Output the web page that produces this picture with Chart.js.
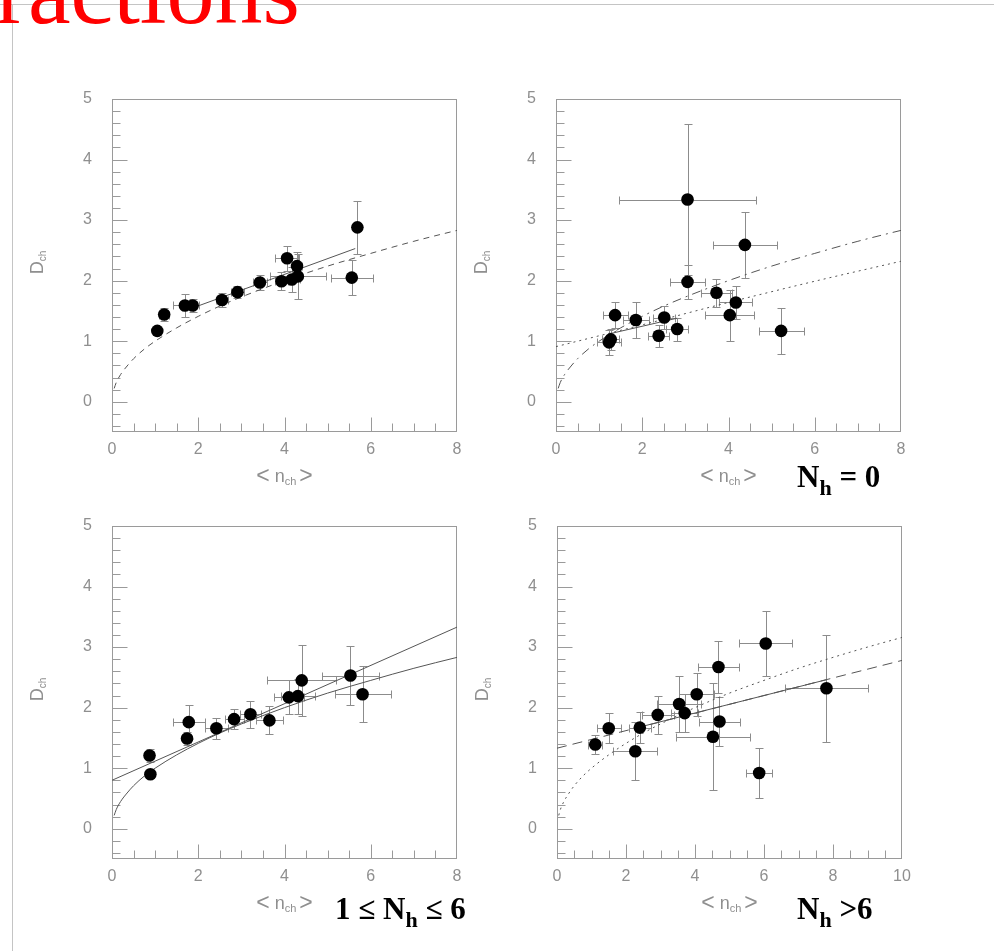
<!DOCTYPE html>
<html>
<head>
<meta charset="utf-8">
<script src="https://cdn.jsdelivr.net/npm/chart.js@4.4.1/dist/chart.umd.min.js"></script>
<style>
  html, body { margin: 0; padding: 0; background: #fff; }
  body { position: relative; width: 994px; height: 951px; overflow: hidden; }
  .rule-h { position: absolute; left: 0; top: 4px; width: 994px; height: 1px; background: #c4c4c4; }
  .rule-v { position: absolute; left: 12px; top: 4px; width: 1px; height: 947px; background: #c4c4c4; }
  .title { position: absolute; left: -4px; top: -57px; font-family: "Liberation Serif", serif; font-size: 96px; line-height: 1; color: #ff0000; white-space: nowrap; }
  canvas { position: absolute; }
  .tag { position: absolute; font-family: "Liberation Serif", serif; font-weight: bold; font-size: 31px; line-height: 1; color: #000; white-space: nowrap; }
  .tag sub { font-size: 22px; vertical-align: -8px; line-height: 0; }
</style>
</head>
<body>
<div class="rule-h"></div>
<div class="rule-v"></div>
<div class="title">ractions</div>

<canvas id="tl" width="490" height="440" style="left:0px;top:60px"></canvas>
<canvas id="tr" width="490" height="440" style="left:444px;top:60px"></canvas>
<canvas id="bl" width="490" height="440" style="left:0px;top:487px"></canvas>
<canvas id="br" width="490" height="440" style="left:445px;top:487px"></canvas>

<div class="tag" style="left:797px;top:461px">N<sub>h</sub> = 0</div>
<div class="tag" style="left:335px;top:893px">1 &le; N<sub>h</sub> &le; 6</div>
<div class="tag" style="left:797px;top:893px">N<sub>h</sub> &gt;6</div>

<script>
// axis ticks
const yTicks = [0, 1, 2, 3, 4, 5]
const xTicks8 = [0, 2, 4, 6, 8]
const xTicks10 = [0, 2, 4, 6, 8, 10]

// reference curve (dashed / dotted sqrt-like curve)
const refCurveX = [0.05, 0.1, 0.2, 0.35, 0.5, 0.75, 1, 1.5, 2, 2.5, 3, 4, 5, 6, 7, 8, 9, 10]
const refCurveY = [0.22, 0.32, 0.45, 0.59, 0.71, 0.87, 1.0, 1.22, 1.41, 1.58, 1.73, 2.0, 2.24, 2.45, 2.65, 2.83, 3.0, 3.16]

// top left: all events
const tlX = [1.05, 1.21, 1.69, 1.87, 2.55, 2.91, 3.43, 3.93, 4.06, 4.17, 4.29, 4.31, 5.56, 5.69]
const tlY = [1.17, 1.44, 1.59, 1.59, 1.68, 1.81, 1.97, 1.99, 2.37, 2.02, 2.24, 2.07, 2.05, 2.88]
const tlXErr = [0.05, 0.12, 0.27, 0.15, 0.15, 0.15, 0.17, 0.15, 0.27, 0.2, 0.12, 0.65, 0.49, 0.05]
const tlYErr = [0.05, 0.1, 0.19, 0.1, 0.12, 0.1, 0.12, 0.15, 0.21, 0.2, 0.24, 0.37, 0.29, 0.44]
const tlFitX = [1.72, 5.64]
const tlFitY = [1.51, 2.53]

// top right: Nh = 0
const trX = [1.23, 1.27, 1.37, 1.85, 2.38, 2.51, 2.81, 3.05, 3.05, 3.72, 4.03, 4.17, 4.38, 5.22]
const trY = [0.98, 1.03, 1.43, 1.35, 1.09, 1.39, 1.20, 1.98, 3.34, 1.80, 1.43, 1.64, 2.59, 1.17]
const trXErr = [0.28, 0.2, 0.29, 0.3, 0.25, 0.25, 0.26, 0.41, 1.59, 0.35, 0.57, 0.38, 0.75, 0.52]
const trYErr = [0.2, 0.17, 0.22, 0.29, 0.18, 0.19, 0.19, 0.28, 1.25, 0.23, 0.42, 0.27, 0.54, 0.38]
const trFitX = [1.23, 2.81]
const trFitY = [1.12, 1.38]
const trDotX = [0, 2, 4, 6, 8]
const trDotY = [0.91, 1.27, 1.64, 1.99, 2.32]

// bottom left: 1 <= Nh <= 6
const blX = [0.87, 0.89, 1.74, 1.78, 2.42, 2.83, 3.21, 3.65, 4.10, 4.31, 4.40, 5.53, 5.81]
const blY = [1.21, 0.90, 1.49, 1.76, 1.66, 1.81, 1.89, 1.79, 2.17, 2.19, 2.45, 2.53, 2.22]
const blXErr = [0.1, 0.08, 0.1, 0.37, 0.26, 0.22, 0.25, 0.31, 0.35, 0.39, 0.80, 0.65, 0.65]
const blYErr = [0.1, 0.07, 0.1, 0.28, 0.17, 0.16, 0.22, 0.23, 0.28, 0.29, 0.59, 0.48, 0.46]
const blLineX = [0, 8]
const blLineY = [0.8, 3.33]

// bottom right: Nh > 6
const brX = [1.11, 1.50, 2.27, 2.40, 2.92, 3.54, 3.70, 4.05, 4.68, 4.71, 4.52, 6.05, 5.86, 7.81]
const brY = [1.39, 1.66, 1.28, 1.67, 1.88, 2.06, 1.91, 2.22, 2.67, 1.77, 1.52, 3.06, 0.92, 2.32]
const brXErr = [0.2, 0.35, 0.64, 0.32, 0.46, 0.63, 0.4, 0.5, 0.6, 0.6, 1.07, 0.77, 0.37, 1.21]
const brYErr = [0.16, 0.25, 0.48, 0.25, 0.31, 0.47, 0.31, 0.36, 0.43, 0.41, 0.88, 0.53, 0.42, 0.88]
const brDashX = [0, 10]
const brDashY = [1.33, 2.78]
const brFitX = [2.4, 7.8]
const brFitY = [1.68, 2.46]

const GRAY = '#9a9a9a'
const LINE = '#555555'

function pts(xs, ys) {
  return xs.map((x, i) => ({ x: x, y: ys[i] }))
}

function pointSet(xs, ys, xe, ye) {
  return {
    data: pts(xs, ys), xErr: xe, yErr: ye, order: 0,
    pointRadius: 6.3, pointHoverRadius: 6.3,
    pointBackgroundColor: '#000', pointBorderWidth: 0, showLine: false
  }
}

function lineSet(xs, ys, dash, smooth) {
  return {
    data: pts(xs, ys), order: 1, showLine: true, pointRadius: 0,
    borderColor: LINE, borderWidth: 1, borderDash: dash,
    cubicInterpolationMode: smooth ? 'monotone' : 'default', tension: 0
  }
}

// frame and inward tick marks
const framePlugin = {
  id: 'frame',
  beforeDatasetsDraw(chart) {
    const { ctx, chartArea: a, scales } = chart
    const x = scales.x, y = scales.y
    const L = Math.round(a.left) + 0.5, R = Math.round(a.right) - 0.5
    const T = Math.round(a.top) + 0.5, B = Math.round(a.bottom) - 0.5
    ctx.save()
    ctx.strokeStyle = GRAY
    ctx.lineWidth = 1
    ctx.strokeRect(L, T, R - L, B - T)
    ctx.beginPath()
    for (let i = -2; i < 25; i++) {
      const py = Math.round(y.getPixelForValue(i * 0.2)) + 0.5
      const len = i % 5 === 0 ? 15 : 8
      ctx.moveTo(L, py); ctx.lineTo(L + len, py)
    }
    for (let i = 1; i < x.max * 2; i++) {
      const v = i * 0.5
      const px = Math.round(x.getPixelForValue(v)) + 0.5
      const len = v % 2 === 0 ? 14 : 8
      ctx.moveTo(px, B); ctx.lineTo(px, B - len)
    }
    ctx.stroke()
    ctx.restore()
  }
}

// error bars with caps, drawn under the markers
const errorPlugin = {
  id: 'errors',
  beforeDatasetsDraw(chart) {
    const { ctx, chartArea: a, scales: { x, y } } = chart
    ctx.save()
    ctx.beginPath()
    ctx.rect(a.left, a.top, a.right - a.left, a.bottom - a.top)
    ctx.clip()
    ctx.strokeStyle = '#8c8c8c'
    ctx.lineWidth = 1
    ctx.beginPath()
    chart.data.datasets.forEach(ds => {
      if (!ds.xErr) return
      ds.data.forEach((p, i) => {
        const cx = Math.round(x.getPixelForValue(p.x)) + 0.5
        const cy = Math.round(y.getPixelForValue(p.y)) + 0.5
        const x0 = Math.round(x.getPixelForValue(p.x - ds.xErr[i])) + 0.5
        const x1 = Math.round(x.getPixelForValue(p.x + ds.xErr[i])) + 0.5
        const y0 = Math.round(y.getPixelForValue(p.y - ds.yErr[i])) + 0.5
        const y1 = Math.round(y.getPixelForValue(p.y + ds.yErr[i])) + 0.5
        ctx.moveTo(x0, cy); ctx.lineTo(x1, cy)
        ctx.moveTo(x0, cy - 4); ctx.lineTo(x0, cy + 4)
        ctx.moveTo(x1, cy - 4); ctx.lineTo(x1, cy + 4)
        ctx.moveTo(cx, y0); ctx.lineTo(cx, y1)
        ctx.moveTo(cx - 4, y0); ctx.lineTo(cx + 4, y0)
        ctx.moveTo(cx - 4, y1); ctx.lineTo(cx + 4, y1)
      })
    })
    ctx.stroke()
    ctx.restore()
  }
}

function drawParts(ctx, parts, cx, cy) {
  let w = 0
  parts.forEach(p => { ctx.font = p.size + 'px "Liberation Sans"'; w += ctx.measureText(p.t).width })
  let px = cx - w / 2
  parts.forEach(p => {
    ctx.font = p.size + 'px "Liberation Sans"'
    ctx.fillText(p.t, px, cy + p.dy)
    px += ctx.measureText(p.t).width
  })
}

// axis titles with subscripts
const titlePlugin = {
  id: 'titles',
  afterDraw(chart) {
    const { ctx, chartArea: a } = chart
    ctx.save()
    ctx.fillStyle = '#8f8f8f'
    ctx.textBaseline = 'middle'
    drawParts(ctx, [
      { t: '<', size: 23, dy: 0 }, { t: ' n', size: 18, dy: 0 },
      { t: 'ch', size: 11, dy: 5 }, { t: ' ', size: 10, dy: 0 }, { t: '>', size: 23, dy: 0 }
    ], (a.left + a.right) / 2, a.bottom + 45)
    ctx.translate(38, (a.top + a.bottom) / 2 - 3)
    ctx.rotate(-Math.PI / 2)
    drawParts(ctx, [{ t: 'D', size: 18, dy: 0 }, { t: 'ch', size: 10, dy: 5 }], 0, 0)
    ctx.restore()
  }
}

function makePanel(id, xMax, xTicks, datasets) {
  new Chart(document.getElementById(id), {
    type: 'scatter',
    data: { datasets: datasets },
    options: {
      responsive: false,
      animation: false,
      devicePixelRatio: 1,
      layout: { padding: { left: 72, right: 33, top: 39, bottom: 38 } },
      plugins: { legend: { display: false }, tooltip: { enabled: false } },
      scales: {
        x: {
          type: 'linear', min: 0, max: xMax,
          afterBuildTicks: s => { s.ticks = xTicks.map(v => ({ value: v })) },
          afterFit: s => { s.height = 30 },
          grid: { display: false, drawTicks: false },
          border: { display: false },
          ticks: { color: '#8f8f8f', padding: 8, maxRotation: 0, autoSkip: false,
            font: { family: 'Liberation Sans', size: 16 } }
        },
        y: {
          type: 'linear', min: -0.5, max: 5,
          afterBuildTicks: s => { s.ticks = yTicks.map(v => ({ value: v })) },
          afterFit: s => { s.width = 40 },
          grid: { display: false, drawTicks: false },
          border: { display: false },
          ticks: { color: '#8f8f8f', padding: 20,
            font: { family: 'Liberation Sans', size: 16 } }
        }
      }
    },
    plugins: [framePlugin, errorPlugin, titlePlugin]
  })
}

makePanel('tl', 8, xTicks8, [
  pointSet(tlX, tlY, tlXErr, tlYErr),
  lineSet(refCurveX, refCurveY, [6, 5], true),
  lineSet(tlFitX, tlFitY, [], false)
])

makePanel('tr', 8, xTicks8, [
  pointSet(trX, trY, trXErr, trYErr),
  lineSet(refCurveX, refCurveY, [9, 5, 2, 5], true),
  lineSet(trDotX, trDotY, [2, 4], true),
  lineSet(trFitX, trFitY, [], false)
])

makePanel('bl', 8, xTicks8, [
  pointSet(blX, blY, blXErr, blYErr),
  lineSet(refCurveX, refCurveY, [], true),
  lineSet(blLineX, blLineY, [], false)
])

makePanel('br', 10, xTicks10, [
  pointSet(brX, brY, brXErr, brYErr),
  lineSet(refCurveX, refCurveY, [2, 4], true),
  lineSet(brDashX, brDashY, [10, 6], false),
  lineSet(brFitX, brFitY, [], false)
])
</script>
</body>
</html>
